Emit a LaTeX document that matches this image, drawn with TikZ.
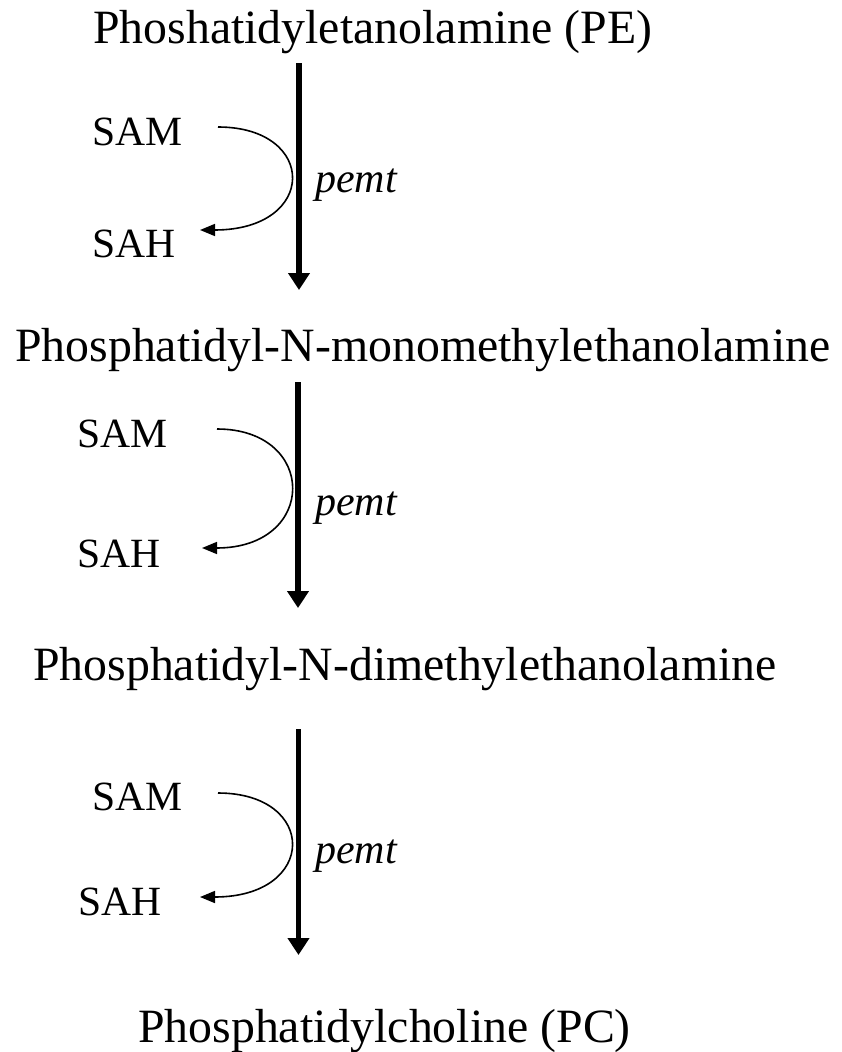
\documentclass[tikz,border=0pt]{standalone}
\usepackage{fontspec}
\setmainfont{Liberation Serif}
\usetikzlibrary{arrows.meta}
\begin{document}
\begin{tikzpicture}[x=1pt,y=-1pt,
  title/.style={anchor=base west,inner sep=0pt,font=\fontsize{47.8}{57}\selectfont},
  cofactor/.style={anchor=base west,inner sep=0pt,font=\fontsize{41.6}{50}\selectfont},
  enzyme/.style={anchor=base west,inner sep=0pt,font=\fontsize{42}{50}\selectfont\itshape},
  mainarrow/.style={line width=5.5pt,-{Triangle[width=21pt,length=17pt]}},
  sidearrow/.style={line width=1.6pt,-{Triangle[width=12pt,length=15pt]}}]
\useasboundingbox (0,0) rectangle (842,1052);
% titles
\node[title] (pe) at (93,43) {Phoshatidyletanolamine (PE)};
\node[title] (pmme) at (15,361) {Phosphatidyl-N-monomethylethanolamine};
\node[title] (pdme) at (33,680) {Phosphatidyl-N-dimethylethanolamine};
\node[title] (pc) at (138,1042) {Phosphatidylcholine (PC)};
% group 1
\node[cofactor] (sam1) at (92,145) {SAM};
\node[cofactor] (sah1) at (92,257) {SAH};
\node[enzyme] (pemt1) at (315,192) {pemt};
\coordinate (m1s) at (299,63);
\coordinate (m1e) at (299,290);
\coordinate (c1s) at (218,127);
\coordinate (c1e) at (200,230);
\draw[mainarrow] (m1s) -- (m1e);
\draw[sidearrow] (c1s) .. controls (318,127) and (318,230) .. (c1e);
% group 2
\node[cofactor] (sam2) at (77,447) {SAM};
\node[cofactor] (sah2) at (77,567) {SAH};
\node[enzyme] (pemt2) at (315,515) {pemt};
\coordinate (m2s) at (298,382);
\coordinate (m2e) at (298,608);
\coordinate (c2s) at (217,429);
\coordinate (c2e) at (202,548);
\draw[mainarrow] (m2s) -- (m2e);
\draw[sidearrow] (c2s) .. controls (318,429) and (318,548) .. (c2e);
% group 3
\node[cofactor] (sam3) at (92,810) {SAM};
\node[cofactor] (sah3) at (78,915) {SAH};
\node[enzyme] (pemt3) at (315,863) {pemt};
\coordinate (m3s) at (298.5,729);
\coordinate (m3e) at (298.5,955);
\coordinate (c3s) at (218,793);
\coordinate (c3e) at (200,897);
\draw[mainarrow] (m3s) -- (m3e);
\draw[sidearrow] (c3s) .. controls (318,793) and (318,897) .. (c3e);
\end{tikzpicture}
\end{document}
